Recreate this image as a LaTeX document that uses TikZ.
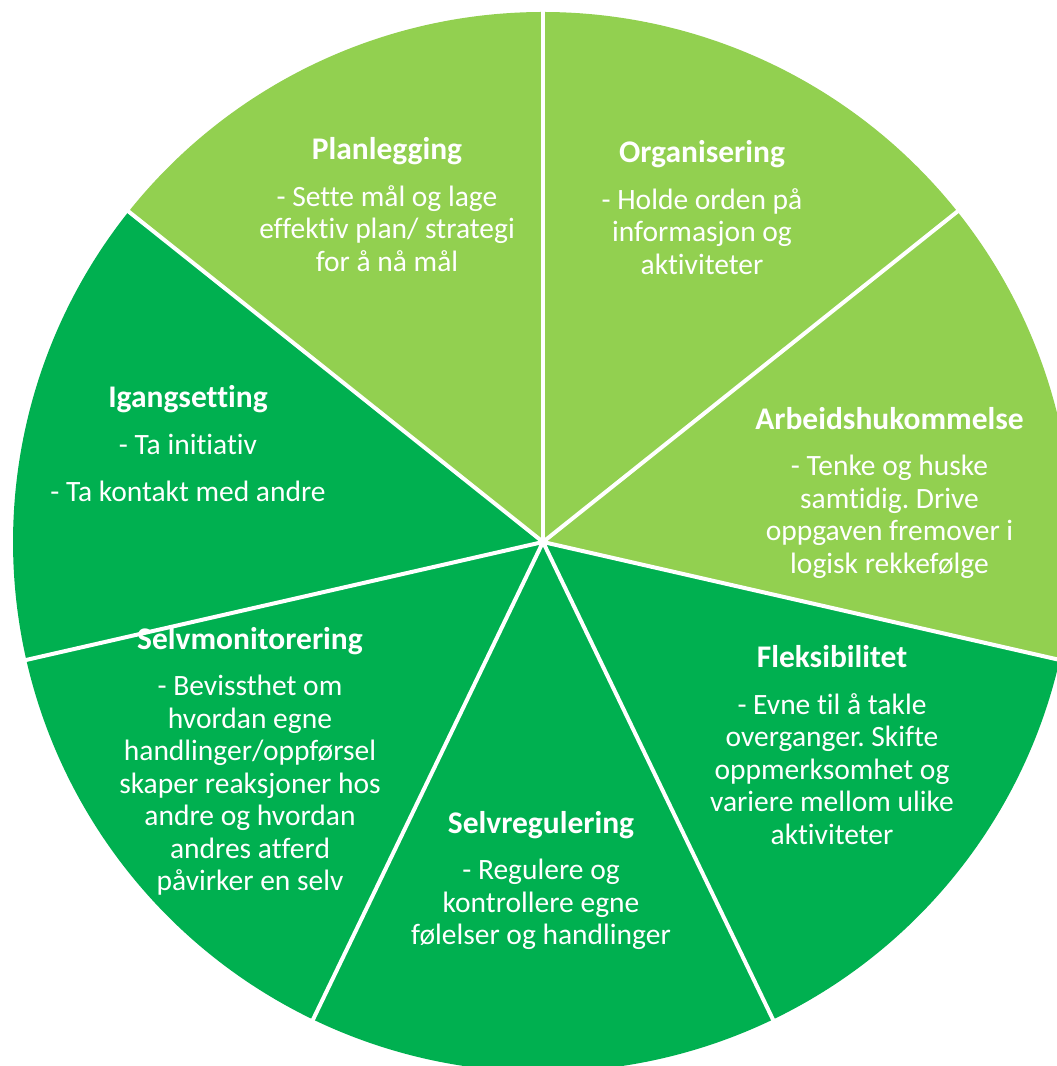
\documentclass[tikz,border=0pt]{standalone}
\usepackage{fontspec}
\setmainfont{Carlito}[Ligatures={NoCommon}]
\frenchspacing
\definecolor{lightg}{HTML}{92D050}
\definecolor{darkg}{HTML}{00B050}
\newcommand{\ttl}[1]{{\fontsize{31.5}{32.5}\selectfont\bfseries #1}}
\begin{document}
\begin{tikzpicture}[x=1pt,y=1pt,
  lbl/.style={text=white, align=center, inner sep=0pt,
    font=\fontsize{29.5}{32.5}\selectfont},
  gap/.style={draw=white, line width=4pt}]
\useasboundingbox (0,0) rectangle (1057,1066);
\clip (0,0) rectangle (1057,1066);
\coordinate (C) at (543,524);
\def\R{530}
\def\A{51.428571}
% slices (start angle, colour)
\foreach \s/\c in {38.571429/lightg, 90/lightg, 141.428571/darkg, 192.857143/darkg, 244.285714/darkg, 295.714286/darkg, 347.142857/lightg}{
  \fill[\c] (C) -- ++(\s:\R) arc[start angle=\s, delta angle=\A, radius=\R] -- cycle;
}
\foreach \s in {38.571429, 90, 141.428571, 192.857143, 244.285714, 295.714286, 347.142857}{
  \draw[gap] (C) -- ++(\s:\R+40);
}
\node[lbl] (plan) at (387,861.5) {\ttl{Planlegging}\\[14pt]- Sette mål og lage\\effektiv plan/ strategi\\for å nå mål};
\node[lbl] (org) at (702,858.5) {\ttl{Organisering}\\[14pt]- Holde orden på\\informasjon og\\aktiviteter};
\node[lbl] (arb) at (889.5,573.5) {\ttl{Arbeidshukommelse}\\[14pt]- Tenke og huske\\samtidig. Drive\\oppgaven fremover i\\logisk rekkefølge};
\node[lbl] (flek) at (832,321) {\ttl{Fleksibilitet}\\[14pt]- Evne til å takle\\overganger. Skifte\\oppmerksomhet og\\variere mellom ulike\\aktiviteter};
\node[lbl] (sreg) at (541,185.5) {\ttl{Selvregulering}\\[14pt]- Regulere og\\kontrollere egne\\følelser og handlinger};
\node[lbl] (smon) at (250,304.5) {\ttl{Selvmonitorering}\\[14pt]- Bevissthet om\\hvordan egne\\handlinger/oppførsel\\skaper reaksjoner hos\\andre og hvordan\\andres atferd\\påvirker en selv};
\node[lbl] (igang) at (188,622.5) {\ttl{Igangsetting}\\[14pt]- Ta initiativ\\[14.5pt]- Ta kontakt med andre};
\end{tikzpicture}
\end{document}
